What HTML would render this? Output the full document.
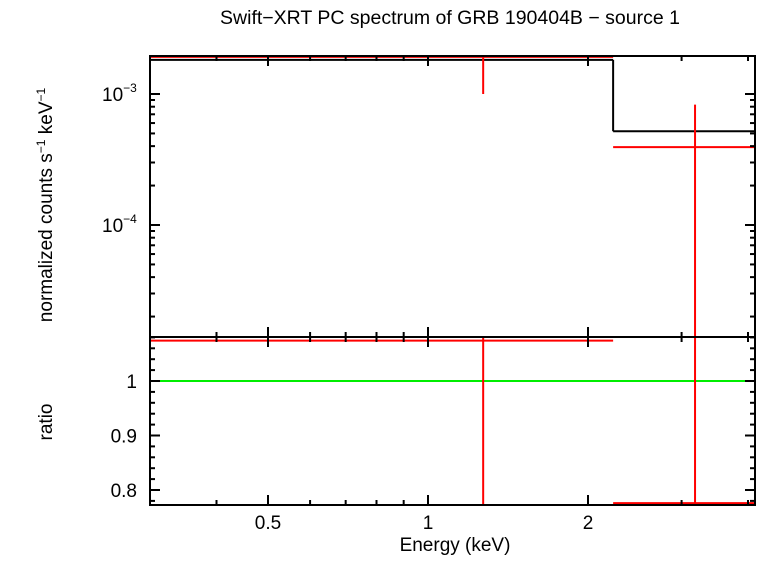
<!DOCTYPE html>
<html><head><meta charset="utf-8"><style>
body{margin:0;background:#fff;}
svg text{font-family:"Liberation Sans",sans-serif;fill:#000;}
</style></head><body>
<svg id="c" width="758" height="556" xmlns="http://www.w3.org/2000/svg">
<text x="450" y="24" font-size="19.5" text-anchor="middle">Swift−XRT PC spectrum of GRB 190404B − source 1</text>
<text x="455" y="551" font-size="19" text-anchor="middle">Energy (keV)</text>
<text transform="translate(52,205) rotate(-90)" font-size="19" text-anchor="middle">normalized counts s<tspan font-size="12" dy="-7">−1</tspan><tspan dy="7"> keV</tspan><tspan font-size="12" dy="-7">−1</tspan></text>
<text transform="translate(52,422) rotate(-90)" font-size="19" text-anchor="middle">ratio</text>
<g id="g"></g>
</svg>
<script>
const xTickVals=[0.5,1,2];
const xTickLabels=["0.5","1","2"];
const yTopTickVals=[1e-3,1e-4];
const yTopTickExp=["−3","−4"];
const ratioTickVals=[0.8,0.9,1];
const ratioTickLabels=["0.8","0.9","1"];
const binLo=[0.3,2.23];
const binHi=[2.23,4.12];
const binCenter=[1.27,3.18];
const modelVals=[1.82e-3,5.2e-4];
const dataVals=[1.92e-3,3.93e-4];
const dataErrLo=[1.0e-3,1e-6];
const dataErrHi=[1e-2,8.3e-4];
const ratioVals=[1.074,0.776];
const ratioErrLo=[0.5,0.5];
const ratioErrHi=[1.5,1.5];

const L=150,R=755,T1=56,B1=337,T2=337,B2=505;
const X=e=>428+531.5*Math.log10(e);
const Y1=v=>Math.min(Math.max(94+131*(-3-Math.log10(v)),T1),B1);
const Y2=v=>Math.min(Math.max(381-545*(v-1),T2),B2);
const g=document.getElementById('g');
const NS='http://www.w3.org/2000/svg';
function mk(tag,a){const e=document.createElementNS(NS,tag);for(const k in a)e.setAttribute(k,a[k]);g.appendChild(e);return e;}
function ln(x1,y1,x2,y2,c,w){return mk('line',{x1,y1,x2,y2,stroke:c,'stroke-width':w||2});}

for(let i=0;i<modelVals.length;i++){
 const e=ln(X(binLo[i]),Y1(modelVals[i]),X(binHi[i]),Y1(modelVals[i]),'#000');
 
 
 if(i>0){const v=ln(X(binLo[i]),Y1(modelVals[i-1]),X(binLo[i]),Y1(modelVals[i]),'#000');
 
 }
}
for(let i=0;i<dataVals.length;i++){
 const h=ln(X(binLo[i]),Y1(dataVals[i]),X(binHi[i]),Y1(dataVals[i]),'#f00');
 
 
 const v=ln(X(binCenter[i]),Y1(dataErrHi[i]),X(binCenter[i]),Y1(dataErrLo[i]),'#f00');
 
 
}
const one=ln(L,Y2(1),R,Y2(1),'#0e0');


for(let i=0;i<ratioVals.length;i++){
 const h=ln(X(binLo[i]),Y2(ratioVals[i]),X(binHi[i]),Y2(ratioVals[i]),'#f00');
 
 
 const v=ln(X(binCenter[i]),Y2(ratioErrHi[i]),X(binCenter[i]),Y2(ratioErrLo[i]),'#f00');
 
 
}
for(const [t,b,n] of [[T1,B1,'top-panel-frame'],[T2,B2,'bottom-panel-frame']]){
 const r=mk('rect',{x:L,y:t,width:R-L,height:b-t,fill:'none',stroke:'#000','stroke-width':2});
 
 
}
const minorX=[0.4,0.6,0.7,0.8,0.9,3,4];
for(const e of minorX){for(const [t,b] of [[T1,B1],[T2,B2]]){ln(X(e),b,X(e),b-5,'#000');ln(X(e),t,X(e),t+5,'#000');}}
xTickVals.forEach((e,i)=>{
 for(const [t,b] of [[T1,B1],[T2,B2]]){ln(X(e),b,X(e),b-10,'#000');ln(X(e),t,X(e),t+10,'#000');}
 const tx=mk('text',{x:X(e),y:529,'font-size':19,'text-anchor':'middle'});tx.textContent=xTickLabels[i];
 
 
});
for(let d=-5;d<=-3;d++){for(let m=2;m<=9;m++){const v=m*Math.pow(10,d);const y=Y1(v);if(y>T1&&y<B1){ln(L,y,L+5,y,'#000');ln(R,y,R-5,y,'#000');}}}
yTopTickVals.forEach((v,i)=>{
 ln(L,Y1(v),L+10,Y1(v),'#000');ln(R,Y1(v),R-10,Y1(v),'#000');
 const tx=mk('text',{x:102,y:Y1(v)+7,'font-size':19});
 tx.innerHTML='10<tspan font-size="12" dy="-9">'+yTopTickExp[i]+'</tspan>';
 
 
});
for(let v=0.78;v<=1.081;v+=0.02){const y=Y2(v);if(y>T2&&y<B2){ln(L,y,L+5,y,'#000');ln(R,y,R-5,y,'#000');}}
ratioTickVals.forEach((v,i)=>{
 ln(L,Y2(v),L+10,Y2(v),'#000');ln(R,Y2(v),R-10,Y2(v),'#000');
 const tx=mk('text',{x:137,y:Y2(v)+7,'font-size':19,'text-anchor':'end'});tx.textContent=ratioTickLabels[i];
 
 
});
</script>
</body></html>
